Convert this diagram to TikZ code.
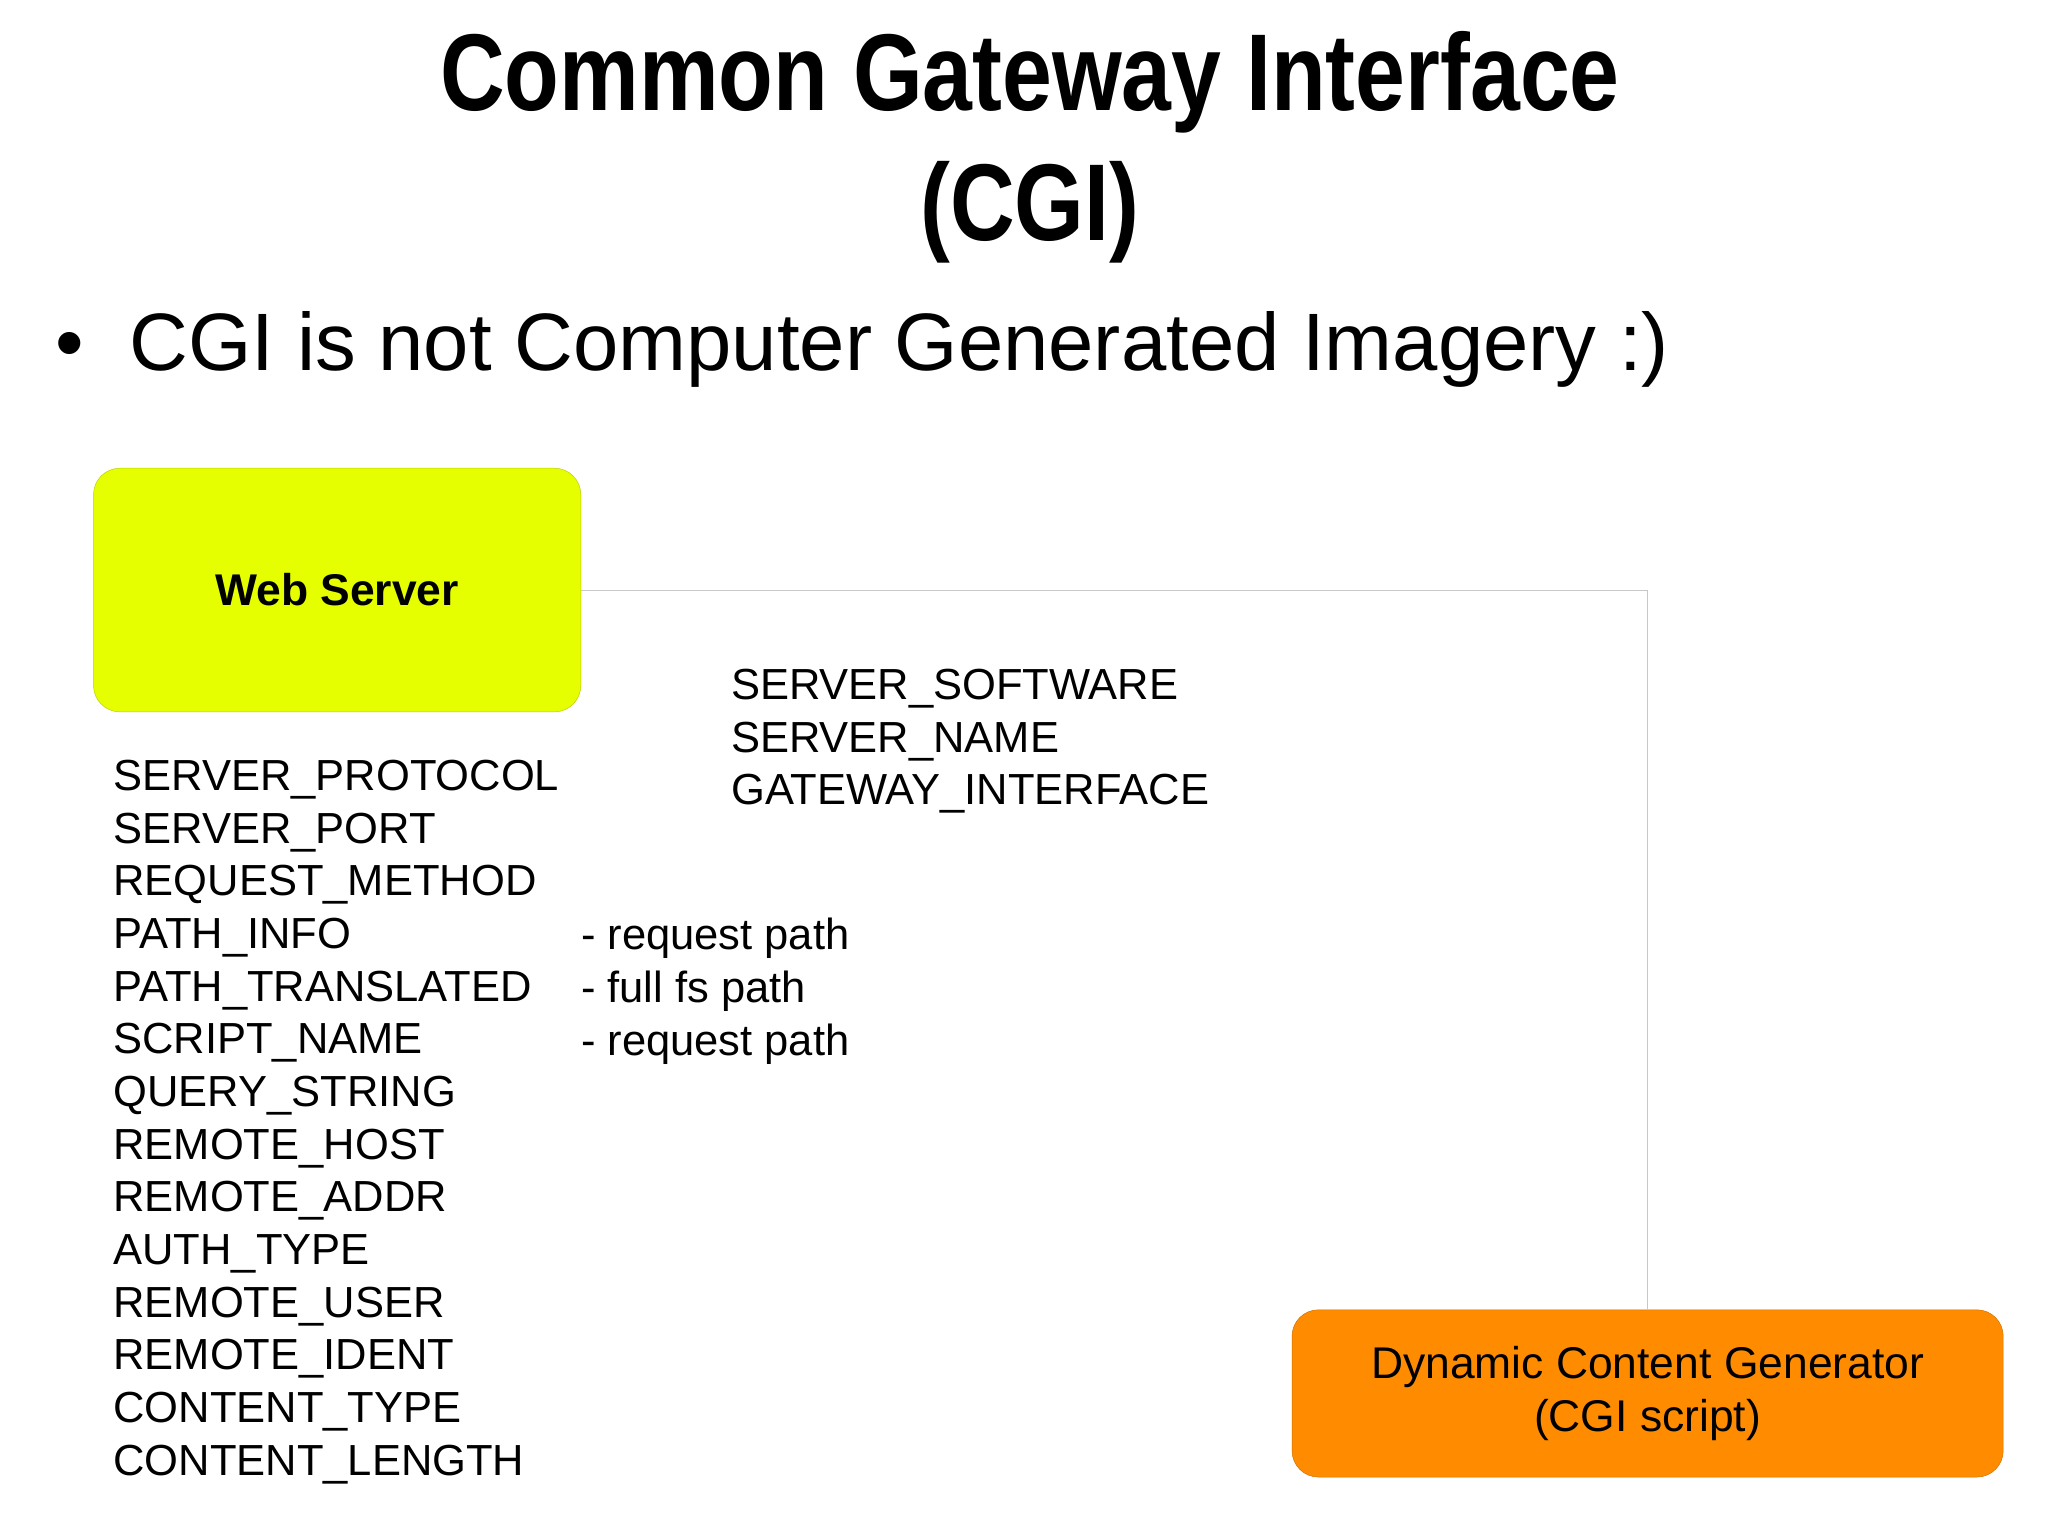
\documentclass[tikz,border=0pt]{standalone}
\usepackage{fontspec}
\setmainfont{Liberation Sans}
\usepackage{tikz}
\usetikzlibrary{positioning}
\definecolor{serverYellow}{RGB}{230, 255, 0}
\definecolor{cgiOrange}{RGB}{255, 140, 0}
\definecolor{lineGray}{RGB}{200, 200, 200}
\tikzset{
    box/.style={draw=#1!80!black, fill=#1, rounded corners=1cm, line width=0.5pt},
    vars/.style={anchor=north west, inner sep=0pt, align=left,
        font=\fontsize{47}{56.9}\selectfont}
}
\begin{document}
\begin{tikzpicture}[x=0.05cm, y=-0.05cm]
    \useasboundingbox (0,0) rectangle (1555,1166);
    % title and bullet
    \node[font=\fontsize{118}{140}\selectfont\bfseries, align=center, xscale=0.82, transform shape] (title) at (782,112) {Common Gateway Interface\\(CGI)};
    \node[anchor=west, font=\fontsize{88}{100}\selectfont] (bullet) at (40,265) {\textbullet\ \ CGI is not Computer Generated Imagery :)};

    % boxes
    \node[box=serverYellow, minimum width=18.5cm, minimum height=9.25cm, font=\fontsize{48}{56}\selectfont\bfseries] (web) at (256,448) {Web Server};
    \node[box=cgiOrange, minimum width=27cm, minimum height=6.35cm, align=center, font=\fontsize{48}{57}\selectfont] (dcg) at (1251,1058) {Dynamic Content Generator\\(CGI script)};
    \coordinate (bend) at (1251,448);
    \draw[lineGray, line width=0.8pt] (web.east) -- (bend) -- (dcg.north);

    % environment variables
    \node[vars] (list) at (86,577) {SERVER\_PROTOCOL\\SERVER\_PORT\\REQUEST\_METHOD\\PATH\_INFO\\PATH\_TRANSLATED\\SCRIPT\_NAME\\QUERY\_STRING\\REMOTE\_HOST\\REMOTE\_ADDR\\AUTH\_TYPE\\REMOTE\_USER\\REMOTE\_IDENT\\CONTENT\_TYPE\\CONTENT\_LENGTH};
    \node[vars] (notes) at (441,697) {- request path\\- full fs path\\- request path};
    \node[vars] (srv) at (555,508) {SERVER\_SOFTWARE\\SERVER\_NAME\\GATEWAY\_INTERFACE};
\end{tikzpicture}
\end{document}
